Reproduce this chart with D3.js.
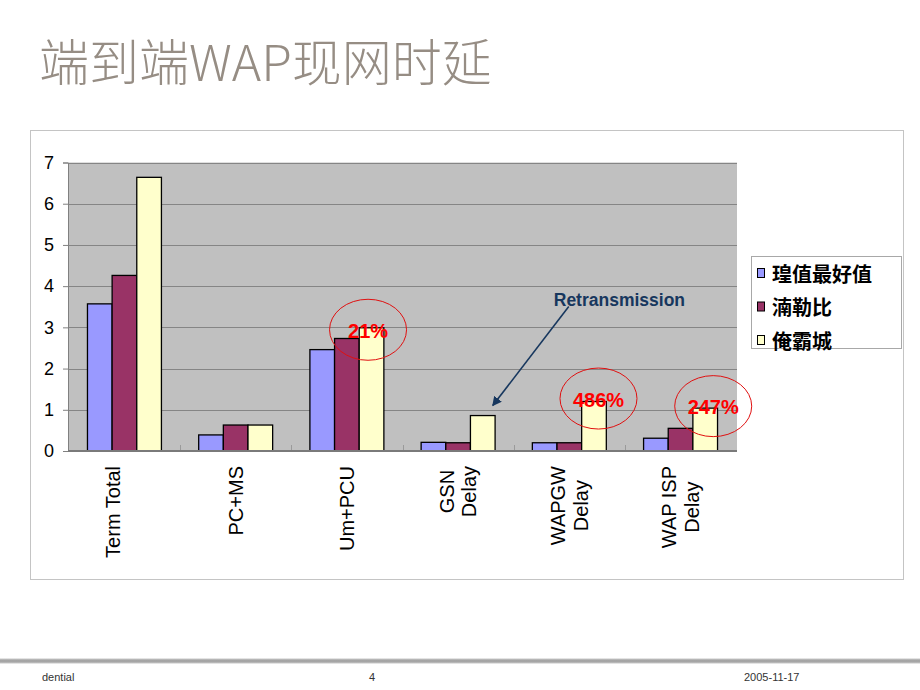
<!DOCTYPE html>
<html>
<head>
<meta charset="utf-8">
<script src="https://cdn.jsdelivr.net/npm/d3@7/dist/d3.min.js"></script>
<style>
  html, body { margin: 0; padding: 0; background: #fff; }
  svg { display: block; }
</style>
</head>
<body>
<svg id="chart" width="920" height="690"></svg>
<script>
// ---------------- data ----------------
const title = "端到端WAP现网时延";
const categories = ["Term Total", "PC+MS", "Um+PCU", "GSN Delay", "WAPGW Delay", "WAP ISP Delay"];
const categoryLines = [["Term Total", ""], ["PC+MS"], ["Um+PCU"], ["GSN", "Delay"], ["WAPGW", "Delay"], ["WAP ISP", "Delay"]];
const seriesNames = ["瑝值最好值", "湳勒比", "俺霸城"];
const seriesColors = ["#9999FF", "#993366", "#FFFFCC"];
const series1 = [3.57, 0.39, 2.46, 0.21, 0.2, 0.31];
const series2 = [4.26, 0.63, 2.73, 0.2, 0.2, 0.55];
const series3 = [6.64, 0.63, 2.99, 0.86, 1.2, 1.04];
const yTicks = [0, 1, 2, 3, 4, 5, 6, 7];
const annotations = [
  { cat: "Um+PCU", series: 2, label: "21%" },
  { cat: "WAPGW Delay", series: 2, label: "486%" },
  { cat: "WAP ISP Delay", series: 2, label: "247%" }
];
const arrowNote = { cat: "GSN Delay", series: 2, label: "Retransmission" };
const footer = { left: "dential", center: "4", right: "2005-11-17" };

// ---------------- layout ----------------
const svg = d3.select("#chart");
const allSeries = [series1, series2, series3];
const plot = { left: 68, right: 737, top: 162.5, bottom: 451 };

svg.append("rect").attr("width", 920).attr("height", 690).attr("fill", "#fff");

// title
svg.append("text")
  .attr("x", 39).attr("y", 81)
  .attr("font-family", "'Noto Sans CJK SC', 'Noto Sans', sans-serif")
  .attr("font-size", 50)
  .attr("font-weight", 300)
  .attr("fill", "#968d84")
  .text(title);

// chart frame
svg.append("rect")
  .attr("x", 30.5).attr("y", 130.5).attr("width", 873).attr("height", 449)
  .attr("fill", "#fff").attr("stroke", "#c4c4c4").attr("stroke-width", 1);

const x0 = d3.scaleBand().domain(categories).range([plot.left, plot.right])
  .paddingInner(0.335).paddingOuter(0.175);
const x1 = d3.scaleBand().domain(d3.range(seriesNames.length)).range([0, x0.bandwidth()]);
const y = d3.scaleLinear().domain([0, 7]).range([plot.bottom, plot.top]);

// plot background
svg.append("rect")
  .attr("x", plot.left).attr("y", y(7))
  .attr("width", plot.right - plot.left).attr("height", y(0) - y(7))
  .attr("fill", "#C0C0C0");

// gridlines
svg.append("g").selectAll("line").data(yTicks.filter(d => d > 0)).join("line")
  .attr("x1", plot.left).attr("x2", plot.right)
  .attr("y1", d => Math.round(y(d)) + 0.5).attr("y2", d => Math.round(y(d)) + 0.5)
  .attr("stroke", "#858585").attr("stroke-width", 1);

// y axis
const yAxis = svg.append("g")
  .attr("transform", `translate(${plot.left},0)`)
  .call(d3.axisLeft(y).tickValues(yTicks).tickSize(5).tickPadding(9).tickFormat(d3.format("d")));
yAxis.select(".domain").attr("stroke", "#808080");
yAxis.selectAll(".tick line").attr("stroke", "#808080");
yAxis.selectAll("text").attr("font-family", "Arial, 'Liberation Sans', sans-serif")
  .attr("font-size", 18).attr("fill", "#000");

// category boundary ticks (inside plot)
const step = x0.step();
const bounds = categories.map((c, i) => x0(c) - (step - x0.bandwidth()) / 2).slice(1);
svg.append("g").selectAll("line").data(bounds).join("line")
  .attr("x1", d => Math.round(d) + 0.5).attr("x2", d => Math.round(d) + 0.5)
  .attr("y1", plot.bottom - 6).attr("y2", plot.bottom)
  .attr("stroke", "#9a9a9a");

// bars
const groups = svg.append("g").selectAll("g").data(categories).join("g")
  .attr("transform", d => `translate(${x0(d)},0)`);
groups.selectAll("rect")
  .data((c, ci) => allSeries.map((s, si) => ({ si, v: s[ci] })))
  .join("rect")
  .attr("x", d => x1(d.si))
  .attr("y", d => y(d.v))
  .attr("width", x1.bandwidth())
  .attr("height", d => y(0) - y(d.v))
  .attr("fill", d => seriesColors[d.si])
  .attr("stroke", "#000").attr("stroke-width", 1.3);

// x axis line
svg.append("line")
  .attr("x1", plot.left).attr("x2", plot.right)
  .attr("y1", plot.bottom).attr("y2", plot.bottom)
  .attr("stroke", "#7a7a7a").attr("stroke-width", 2);

// x labels (rotated)
const labelTop = 466;
const lineGap = 22.5;
categories.forEach((c, ci) => {
  const lines = categoryLines[ci];
  const cx = x0(c) + x0.bandwidth() / 2;
  const g = svg.append("g");
  const texts = lines.map((ln, li) => g.append("text")
    .attr("font-family", "Arial, 'Liberation Sans', sans-serif")
    .attr("font-size", 20).attr("fill", "#000")
    .attr("text-anchor", "middle")
    .text(ln));
  const maxLen = d3.max(texts, t => t.node().getComputedTextLength());
  texts.forEach((t, li) => {
    const lx = cx + (li - (lines.length - 1) / 2) * lineGap + 7;
    const ly = labelTop + maxLen / 2;
    t.attr("transform", `translate(${lx},${ly}) rotate(-90)`);
  });
});

// legend
const lg = svg.append("g");
lg.append("rect").attr("x", 751.5).attr("y", 256.5).attr("width", 150).attr("height", 92)
  .attr("fill", "#fff").attr("stroke", "#a8a8a8");
seriesNames.forEach((n, i) => {
  const cy = 273 + i * 33.5;
  lg.append("rect").attr("x", 757.5).attr("y", cy - 4.5).attr("width", 7).attr("height", 9)
    .attr("fill", seriesColors[i]).attr("stroke", "#000").attr("stroke-width", 1);
  lg.append("text").attr("x", 772).attr("y", cy)
    .attr("dominant-baseline", "central")
    .attr("font-family", "'Noto Sans CJK SC', sans-serif")
    .attr("font-size", 20).attr("font-weight", 700).attr("fill", "#000")
    .text(n);
});

// annotations: red ellipses with percentages
const annOffsets = [[-3.5, 2], [4.5, -3], [8, -2]];
annotations.forEach((a, i) => {
  const ci = categories.indexOf(a.cat);
  const bx = x0(a.cat) + x1(a.series) + x1.bandwidth() / 2 + annOffsets[i][0];
  const by = y(allSeries[a.series][ci]) + annOffsets[i][1];
  svg.append("ellipse").attr("cx", bx).attr("cy", by).attr("rx", 38.5).attr("ry", 30.5)
    .attr("fill", "none").attr("stroke", "#e01010").attr("stroke-width", 1);
  svg.append("text").attr("x", bx).attr("y", by + 8)
    .attr("text-anchor", "middle")
    .attr("font-family", "Arial, 'Liberation Sans', sans-serif")
    .attr("font-size", 20).attr("font-weight", 700).attr("fill", "#ff0000")
    .text(a.label);
});

// retransmission arrow
{
  const ci = categories.indexOf(arrowNote.cat);
  const tipX = x0(arrowNote.cat) + x1(arrowNote.series) + x1.bandwidth() / 2 + 10;
  const tipY = y(allSeries[arrowNote.series][ci]) - 10;
  const defs = svg.append("defs");
  defs.append("marker").attr("id", "arr").attr("viewBox", "0 0 10 10")
    .attr("refX", 9).attr("refY", 5).attr("markerWidth", 6).attr("markerHeight", 6)
    .attr("orient", "auto")
    .append("path").attr("d", "M0,0 L10,5 L0,10 z").attr("fill", "#17375E");
  svg.append("line").attr("x1", tipX + 76).attr("y1", tipY - 99).attr("x2", tipX).attr("y2", tipY)
    .attr("stroke", "#17375E").attr("stroke-width", 1.6).attr("marker-end", "url(#arr)");
  svg.append("text").attr("x", tipX + 61).attr("y", tipY - 100)
    .attr("font-family", "Arial, 'Liberation Sans', sans-serif")
    .attr("font-size", 17.5).attr("font-weight", 700).attr("fill", "#17375E")
    .text(arrowNote.label);
}

// footer
const grad = svg.append("defs").append("linearGradient").attr("id", "fg")
  .attr("x1", 0).attr("x2", 0).attr("y1", 0).attr("y2", 1);
grad.append("stop").attr("offset", 0).attr("stop-color", "#c8c8c8");
grad.append("stop").attr("offset", 0.5).attr("stop-color", "#9c9c9c");
grad.append("stop").attr("offset", 1).attr("stop-color", "#c8c8c8");
svg.append("rect").attr("x", 0).attr("y", 658.5).attr("width", 920).attr("height", 5).attr("fill", "url(#fg)");
const ff = "'Liberation Sans Narrow', 'Arial Narrow', Arial, sans-serif";
svg.append("text").attr("x", 42).attr("y", 681).attr("font-family", ff).attr("font-size", 11).attr("fill", "#333").text(footer.left);
svg.append("text").attr("x", 369).attr("y", 681).attr("font-family", ff).attr("font-size", 11).attr("fill", "#333").text(footer.center);
svg.append("text").attr("x", 744).attr("y", 681).attr("font-family", ff).attr("font-size", 11).attr("fill", "#333").text(footer.right);
</script>
</body>
</html>
